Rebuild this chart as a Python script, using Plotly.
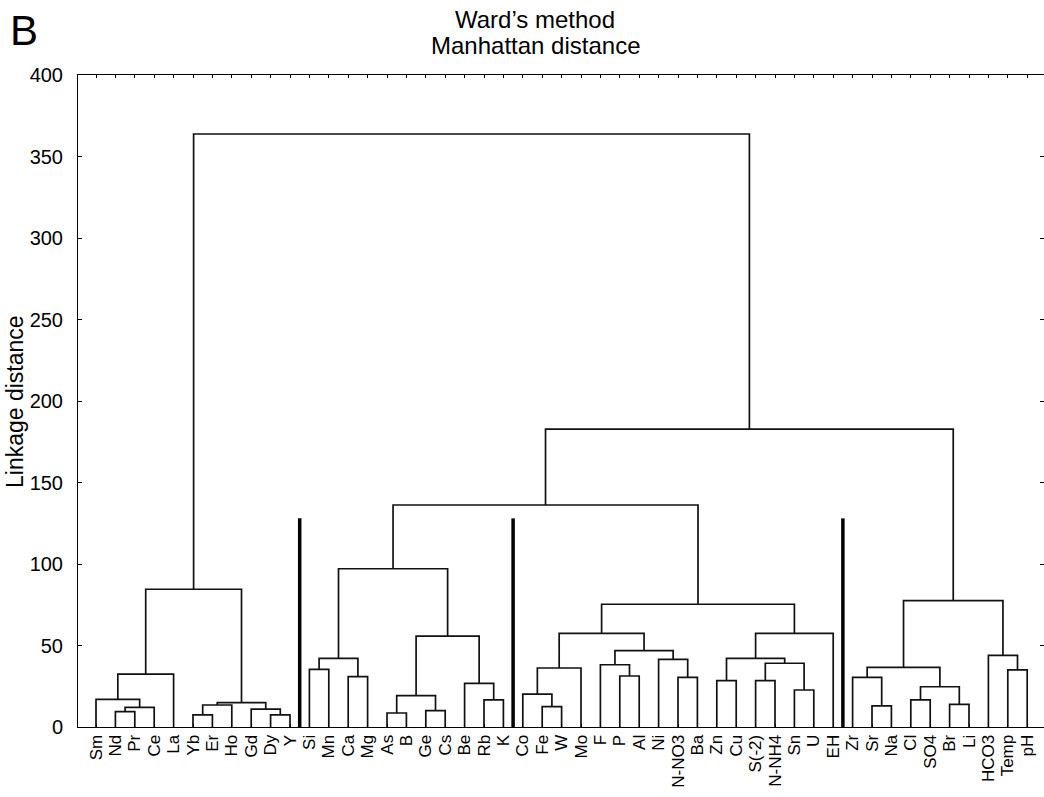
import plotly.graph_objects as go

# ---------------- data ----------------
leaves = ["Sm", "Nd", "Pr", "Ce", "La", "Yb", "Er", "Ho", "Gd", "Dy", "Y",
          "Si", "Mn", "Ca", "Mg", "As", "B", "Ge", "Cs", "Be", "Rb", "K",
          "Co", "Fe", "W", "Mo", "F", "P", "Al", "Ni", "N-NO3", "Ba", "Zn", "Cu",
          "S(-2)", "N-NH4", "Sn", "U", "EH",
          "Zr", "Sr", "Na", "Cl", "SO4", "Br", "Li", "HCO3", "Temp", "pH"]

# Linkage: children are leaf names or "#k" = k-th merge below
merge_left = ["Nd", "#0", "Sm", "#2", "Yb", "#4", "Dy", "Gd", "#5", "#3",
              "Si", "Ca", "#10", "As", "Ge", "#13", "Rb", "Be", "#15", "#12",
              "Fe", "Co", "#21", "P", "F", "N-NO3", "Ni", "#24", "#22",
              "Zn", "S(-2)", "Sn", "#30", "#29", "#33", "#28", "#19",
              "Sr", "Zr", "Cl", "Br", "#39", "#38", "Temp", "HCO3", "#42",
              "#36", "#9"]
merge_right = ["Pr", "Ce", "#1", "La", "Er", "Ho", "Y", "#6", "#7", "#8",
               "Mn", "Mg", "#11", "B", "Cs", "#14", "K", "#16", "#17", "#18",
               "W", "#20", "Mo", "Al", "#23", "Ba", "#25", "#26", "#27",
               "Cu", "N-NH4", "U", "#31", "#32", "EH", "#34", "#35",
               "Na", "#37", "SO4", "Li", "#40", "#41", "pH", "#43", "#44",
               "#45", "#46"]
merge_height = [9.4, 12.1, 17.0, 32.5, 7.4, 13.5, 7.4, 11.0, 14.9, 84.5,
                35.4, 30.9, 42.1, 8.6, 10.0, 19.2, 16.6, 26.8, 55.8, 97.1,
                12.5, 20.2, 36.2, 31.3, 38.2, 30.5, 41.5, 46.8, 57.5,
                28.4, 28.4, 22.7, 39.1, 42.1, 57.5, 75.3, 136.2,
                12.9, 30.5, 16.6, 13.9, 24.7, 36.6, 35.0, 44.0, 77.5,
                182.8, 363.8]

# group separators drawn after these leaves
break_after = ["Y", "K", "EH"]
break_height = 128

y_ticks = [0, 50, 100, 150, 200, 250, 300, 350, 400]

# ---------------- build dendrogram paths ----------------
leaf_pos = {name: i for i, name in enumerate(leaves)}
node_x, node_h = [], []


def pos(ref):
    if ref.startswith("#"):
        k = int(ref[1:])
        return node_x[k], node_h[k]
    return float(leaf_pos[ref]), 0.0


xs, ys = [], []
for a, b, h in zip(merge_left, merge_right, merge_height):
    xa, ha = pos(a)
    xb, hb = pos(b)
    xs += [xa, xa, xb, xb, None]
    ys += [ha, h, h, hb, None]
    node_x.append((xa + xb) / 2)
    node_h.append(h)

bx, by = [], []
for name in break_after:
    xb = leaf_pos[name] + 0.5
    bx += [xb, xb, None]
    by += [0, break_height, None]

FONT = "Liberation Sans, Arial, sans-serif"

fig = go.Figure()
fig.add_trace(go.Scatter(x=xs, y=ys, mode="lines",
                         line=dict(color="#111111", width=1.7),
                         hoverinfo="skip", showlegend=False))
fig.add_trace(go.Scatter(x=bx, y=by, mode="lines",
                         line=dict(color="#000000", width=3.5),
                         hoverinfo="skip", showlegend=False))
# dummy trace for the right-side tick axis
fig.add_trace(go.Scatter(x=[0], y=[0], yaxis="y2", mode="markers",
                         marker=dict(opacity=0), hoverinfo="skip",
                         showlegend=False))

# body margin removed by post_script: figure spans page px 0..1044, 0..797
W, H = 1044, 797
L, R, T, B = 78, 0, 75, 797 - 727
pw = W - L - R
ph = H - T - B
spacing = 19.4
x0 = -18 / spacing
x1 = x0 + pw / spacing

fig.update_layout(
    width=W, height=H,
    margin=dict(l=L, r=R, t=T, b=B, autoexpand=False),
    paper_bgcolor="white", plot_bgcolor="white",
    font=dict(family=FONT, color="black"),
    hovermode=False,
    xaxis=dict(range=[x0, x1], tickmode="array",
               tickvals=list(range(len(leaves))), ticktext=leaves,
               tickangle=-90, tickfont=dict(size=17, family=FONT),
               ticks="inside", ticklen=3, tickcolor="black",
               showline=True, linecolor="black", linewidth=1,
               mirror="ticks", showgrid=False, zeroline=False,
               ticklabelstandoff=0, automargin=False),
    yaxis=dict(range=[0, 400], tickmode="array", tickvals=y_ticks,
               tickfont=dict(size=20, family=FONT),
               ticks="inside", ticklen=4, tickcolor="black",
               showline=True, linecolor="black", linewidth=1,
               showgrid=False, zeroline=False, ticklabelstandoff=10,
               automargin=False),
    yaxis2=dict(range=[0, 400], overlaying="y", side="right",
                tickmode="array", tickvals=y_ticks, showticklabels=False,
                ticks="inside", ticklen=4, tickcolor="black",
                showline=False, showgrid=False, zeroline=False),
)


def px_x(px):  # page px -> paper x
    return (px - L) / pw


def px_y(py):  # page px -> paper y
    return (H - B - py) / ph


fig.add_annotation(text="Ward\u2019s method", xref="paper", yref="paper",
                   x=px_x(535), y=px_y(19), borderpad=0,
                   xanchor="center", yanchor="middle", showarrow=False,
                   font=dict(size=24, family=FONT))
fig.add_annotation(text="Manhattan distance", xref="paper", yref="paper",
                   x=px_x(535), y=px_y(46), borderpad=0,
                   xanchor="center", yanchor="middle", showarrow=False,
                   font=dict(size=24, family=FONT))
fig.add_annotation(text="B", xref="paper", yref="paper",
                   x=px_x(24), y=px_y(31), borderpad=0,
                   xanchor="center", yanchor="middle", showarrow=False,
                   font=dict(size=42, family=FONT))
fig.add_annotation(text="Linkage distance", xref="paper", yref="paper",
                   x=px_x(15), y=px_y(402), borderpad=0,
                   xanchor="center", yanchor="middle", showarrow=False,
                   textangle=-90, font=dict(size=23, family=FONT))

fig.write_html("out.html",
               config={"displayModeBar": False, "staticPlot": True},
               post_script="document.body.style.margin='0';"
                           "document.body.style.overflow='hidden';")
